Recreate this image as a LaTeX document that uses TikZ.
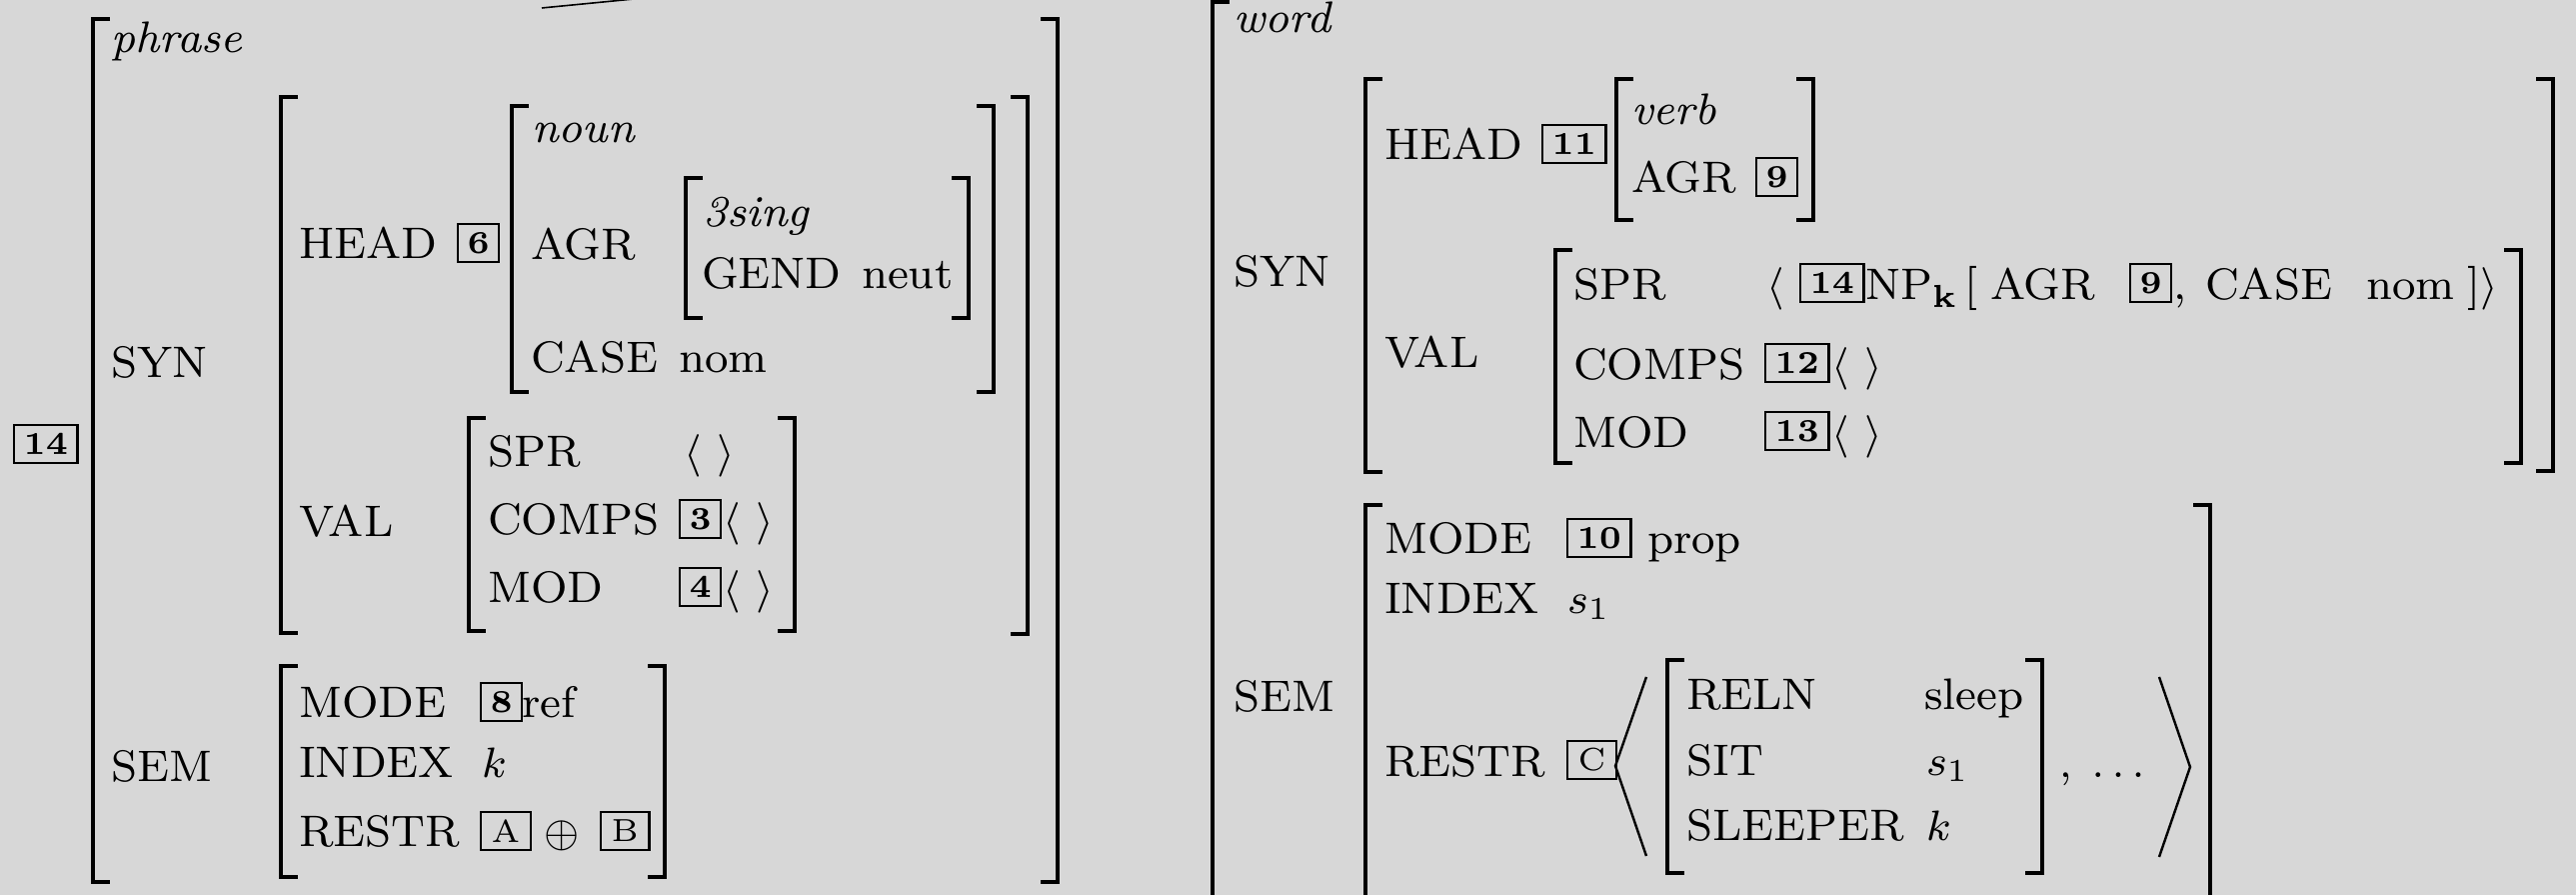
\documentclass[tikz,border=0pt]{standalone}
\definecolor{bggray}{RGB}{215,215,215}

\begin{document}
\begin{tikzpicture}[x=0.188pt, y=-0.188pt,
  feat/.style={anchor=base west, inner sep=0pt, font=\fontsize{8.3}{10}\selectfont},
  tag/.style={draw, line width=0.4pt, anchor=west, inner xsep=1.8pt, inner ysep=0pt,
    minimum height=7.1pt, font=\fontsize{6}{7}\selectfont\bfseries},
  ltag/.style={tag, inner xsep=2pt, font=\fontsize{6}{7}\selectfont},
  brk/.style={line width=0.8pt},
  ang/.style={line width=0.45pt}]
  \fill[bggray] (0,0) rectangle (2577,895);
  \useasboundingbox (0,0) rectangle (2577,895);
  \clip (0,0) rectangle (2577,895);

  % left avm: phrase
  \node[tag] (lTag) at (13,444) {14};
  \node[feat] (lPhrase) at (110,53) {\textit{phrase}};
  \node[feat] (lSyn) at (110,378) {SYN};
  \node[feat] (lHead) at (298,259) {HEAD};
  \node[tag] (lHeadTag) at (457,243) {6};
  \node[feat] (lNoun) at (531,143) {\textit{noun}};
  \node[feat] (lAgr) at (530,260) {AGR};
  \node[feat] (lSing) at (702,227) {\textit{3sing}};
  \node[feat] (lGend) at (701,289) {GEND};
  \node[feat] (lNeut) at (861,289) {neut};
  \node[feat] (lCase) at (530,373) {CASE};
  \node[feat] (lNom) at (678,373) {nom};
  \node[feat] (lVal) at (298,537) {VAL};
  \node[feat] (lSpr) at (487,467) {SPR};
  \node[feat] (lSprV) at (683,467) {$\langle\ \rangle$};
  \node[feat] (lComps) at (487,535) {COMPS};
  \node[tag] (lCompsTag) at (679,519) {3};
  \node[feat] (lCompsV) at (722,535) {$\langle\ \rangle$};
  \node[feat] (lMod) at (487,603) {MOD};
  \node[tag] (lModTag) at (679,587) {4};
  \node[feat] (lModV) at (722,603) {$\langle\ \rangle$};
  \node[feat] (lSem) at (110,782) {SEM};
  \node[feat] (lMode) at (298,718) {MODE};
  \node[tag] (lModeTag) at (480,702) {8};
  \node[feat] (lRef) at (521,718) {ref};
  \node[feat] (lIndex) at (298,778) {INDEX};
  \node[feat] (lK) at (481,778) {$k$};
  \node[feat] (lRestr) at (298,847) {RESTR};
  \node[ltag] (lTagA) at (480,831) {A};
  \node[feat] (lOplus) at (543,847) {$\oplus$};
  \node[ltag] (lTagB) at (600,831) {B};

  \draw[brk] (110,19) -- (93,19) -- (93,882) -- (110,882);
  \draw[brk] (1041,19) -- (1058,19) -- (1058,882) -- (1041,882);
  \draw[brk] (298,97) -- (281,97) -- (281,633) -- (298,633);
  \draw[brk] (1011,97) -- (1028,97) -- (1028,634) -- (1011,634);
  \draw[brk] (529,106) -- (512,106) -- (512,392) -- (529,392);
  \draw[brk] (977,106) -- (994,106) -- (994,392) -- (977,392);
  \draw[brk] (703,178) -- (686,178) -- (686,318) -- (703,318);
  \draw[brk] (952,178) -- (969,178) -- (969,318) -- (952,318);
  \draw[brk] (486,418) -- (469,418) -- (469,631) -- (486,631);
  \draw[brk] (778,418) -- (795,418) -- (795,631) -- (778,631);
  \draw[brk] (298,666) -- (281,666) -- (281,877) -- (298,877);
  \draw[brk] (648,666) -- (665,666) -- (665,877) -- (648,877);

  % branch from the tree above
  \coordinate (lBranch) at (542,8);
  \coordinate (lParent) at (706,-8);
  \draw[line width=0.3pt] (lBranch) -- (lParent);

  % right avm: word
  \node[feat] (rWord) at (1233,33) {\textit{word}};
  \node[feat] (rSyn) at (1233,287) {SYN};
  \node[feat] (rHead) at (1384,160) {HEAD};
  \node[tag] (rHeadTag) at (1542,144) {11};
  \node[feat] (rVerb) at (1631,125) {\textit{verb}};
  \node[feat] (rAgr) at (1631,193) {AGR};
  \node[tag] (rAgrTag) at (1756,177) {9};
  \node[feat] (rVal) at (1384,368) {VAL};
  \node[feat] (rSpr) at (1573,300) {SPR};
  \node[feat] (rLangle) at (1766,300) {$\langle$};
  \node[tag] (rSprTag) at (1800,283) {14};
  \node[feat] (rNP) at (1865,300) {NP$_{\mathbf{k}}$};
  \node[feat] (rLbrack) at (1964,300) {[};
  \node[feat] (rSprAgr) at (1990,300) {AGR};
  \node[tag] (rSprAgrTag) at (2130,283) {9};
  \node[feat] (rComma) at (2173,300) {,};
  \node[feat] (rCase) at (2205,300) {CASE};
  \node[feat] (rNom) at (2366,300) {nom};
  \node[feat] (rClose) at (2467,300) {]$\rangle$};
  \node[feat] (rComps) at (1573,380) {COMPS};
  \node[tag] (rCompsTag) at (1765,363) {12};
  \node[feat] (rCompsV) at (1831,380) {$\langle\ \rangle$};
  \node[feat] (rMod) at (1573,448) {MOD};
  \node[tag] (rModTag) at (1765,431) {13};
  \node[feat] (rModV) at (1831,448) {$\langle\ \rangle$};
  \node[feat] (rSem) at (1233,712) {SEM};
  \node[feat] (rMode) at (1384,554) {MODE};
  \node[tag] (rModeTag) at (1567,538) {10};
  \node[feat] (rProp) at (1647,554) {prop};
  \node[feat] (rIndex) at (1384,614) {INDEX};
  \node[feat] (rS) at (1567,614) {$s_1$};
  \node[feat] (rRestr) at (1384,777) {RESTR};
  \node[ltag] (rTagC) at (1567,760) {C};
  \node[feat] (rReln) at (1686,710) {RELN};
  \node[feat] (rSleep) at (1924,710) {sleep};
  \node[feat] (rSit) at (1686,776) {SIT};
  \node[feat] (rSitV) at (1926,776) {$s_1$};
  \node[feat] (rSleeper) at (1686,841) {SLEEPER};
  \node[feat] (rSleeperV) at (1926,841) {$k$};
  \node[feat] (rDots) at (2059,778) {$,\;\ldots$};

  \draw[brk] (1230,2) -- (1213,2) -- (1213,920);
  \draw[brk] (1383,79) -- (1366,79) -- (1366,472) -- (1383,472);
  \draw[brk] (2537,79) -- (2554,79) -- (2554,471) -- (2537,471);
  \draw[brk] (1634,79) -- (1617,79) -- (1617,220) -- (1634,220);
  \draw[brk] (1797,79) -- (1814,79) -- (1814,220) -- (1797,220);
  \draw[brk] (1573,250) -- (1556,250) -- (1556,463) -- (1573,463);
  \draw[brk] (2505,250) -- (2522,250) -- (2522,463) -- (2505,463);
  \draw[brk] (1383,505) -- (1366,505) -- (1366,920);
  \draw[brk] (2194,505) -- (2211,505) -- (2211,920);
  \draw[brk] (1685,660) -- (1668,660) -- (1668,873) -- (1685,873);
  \draw[brk] (2026,660) -- (2043,660) -- (2043,873) -- (2026,873);
  \draw[ang] (1647,677) -- (1616,766) -- (1647,856);
  \draw[ang] (2160,677) -- (2191,767) -- (2160,857);
\end{tikzpicture}
\end{document}
